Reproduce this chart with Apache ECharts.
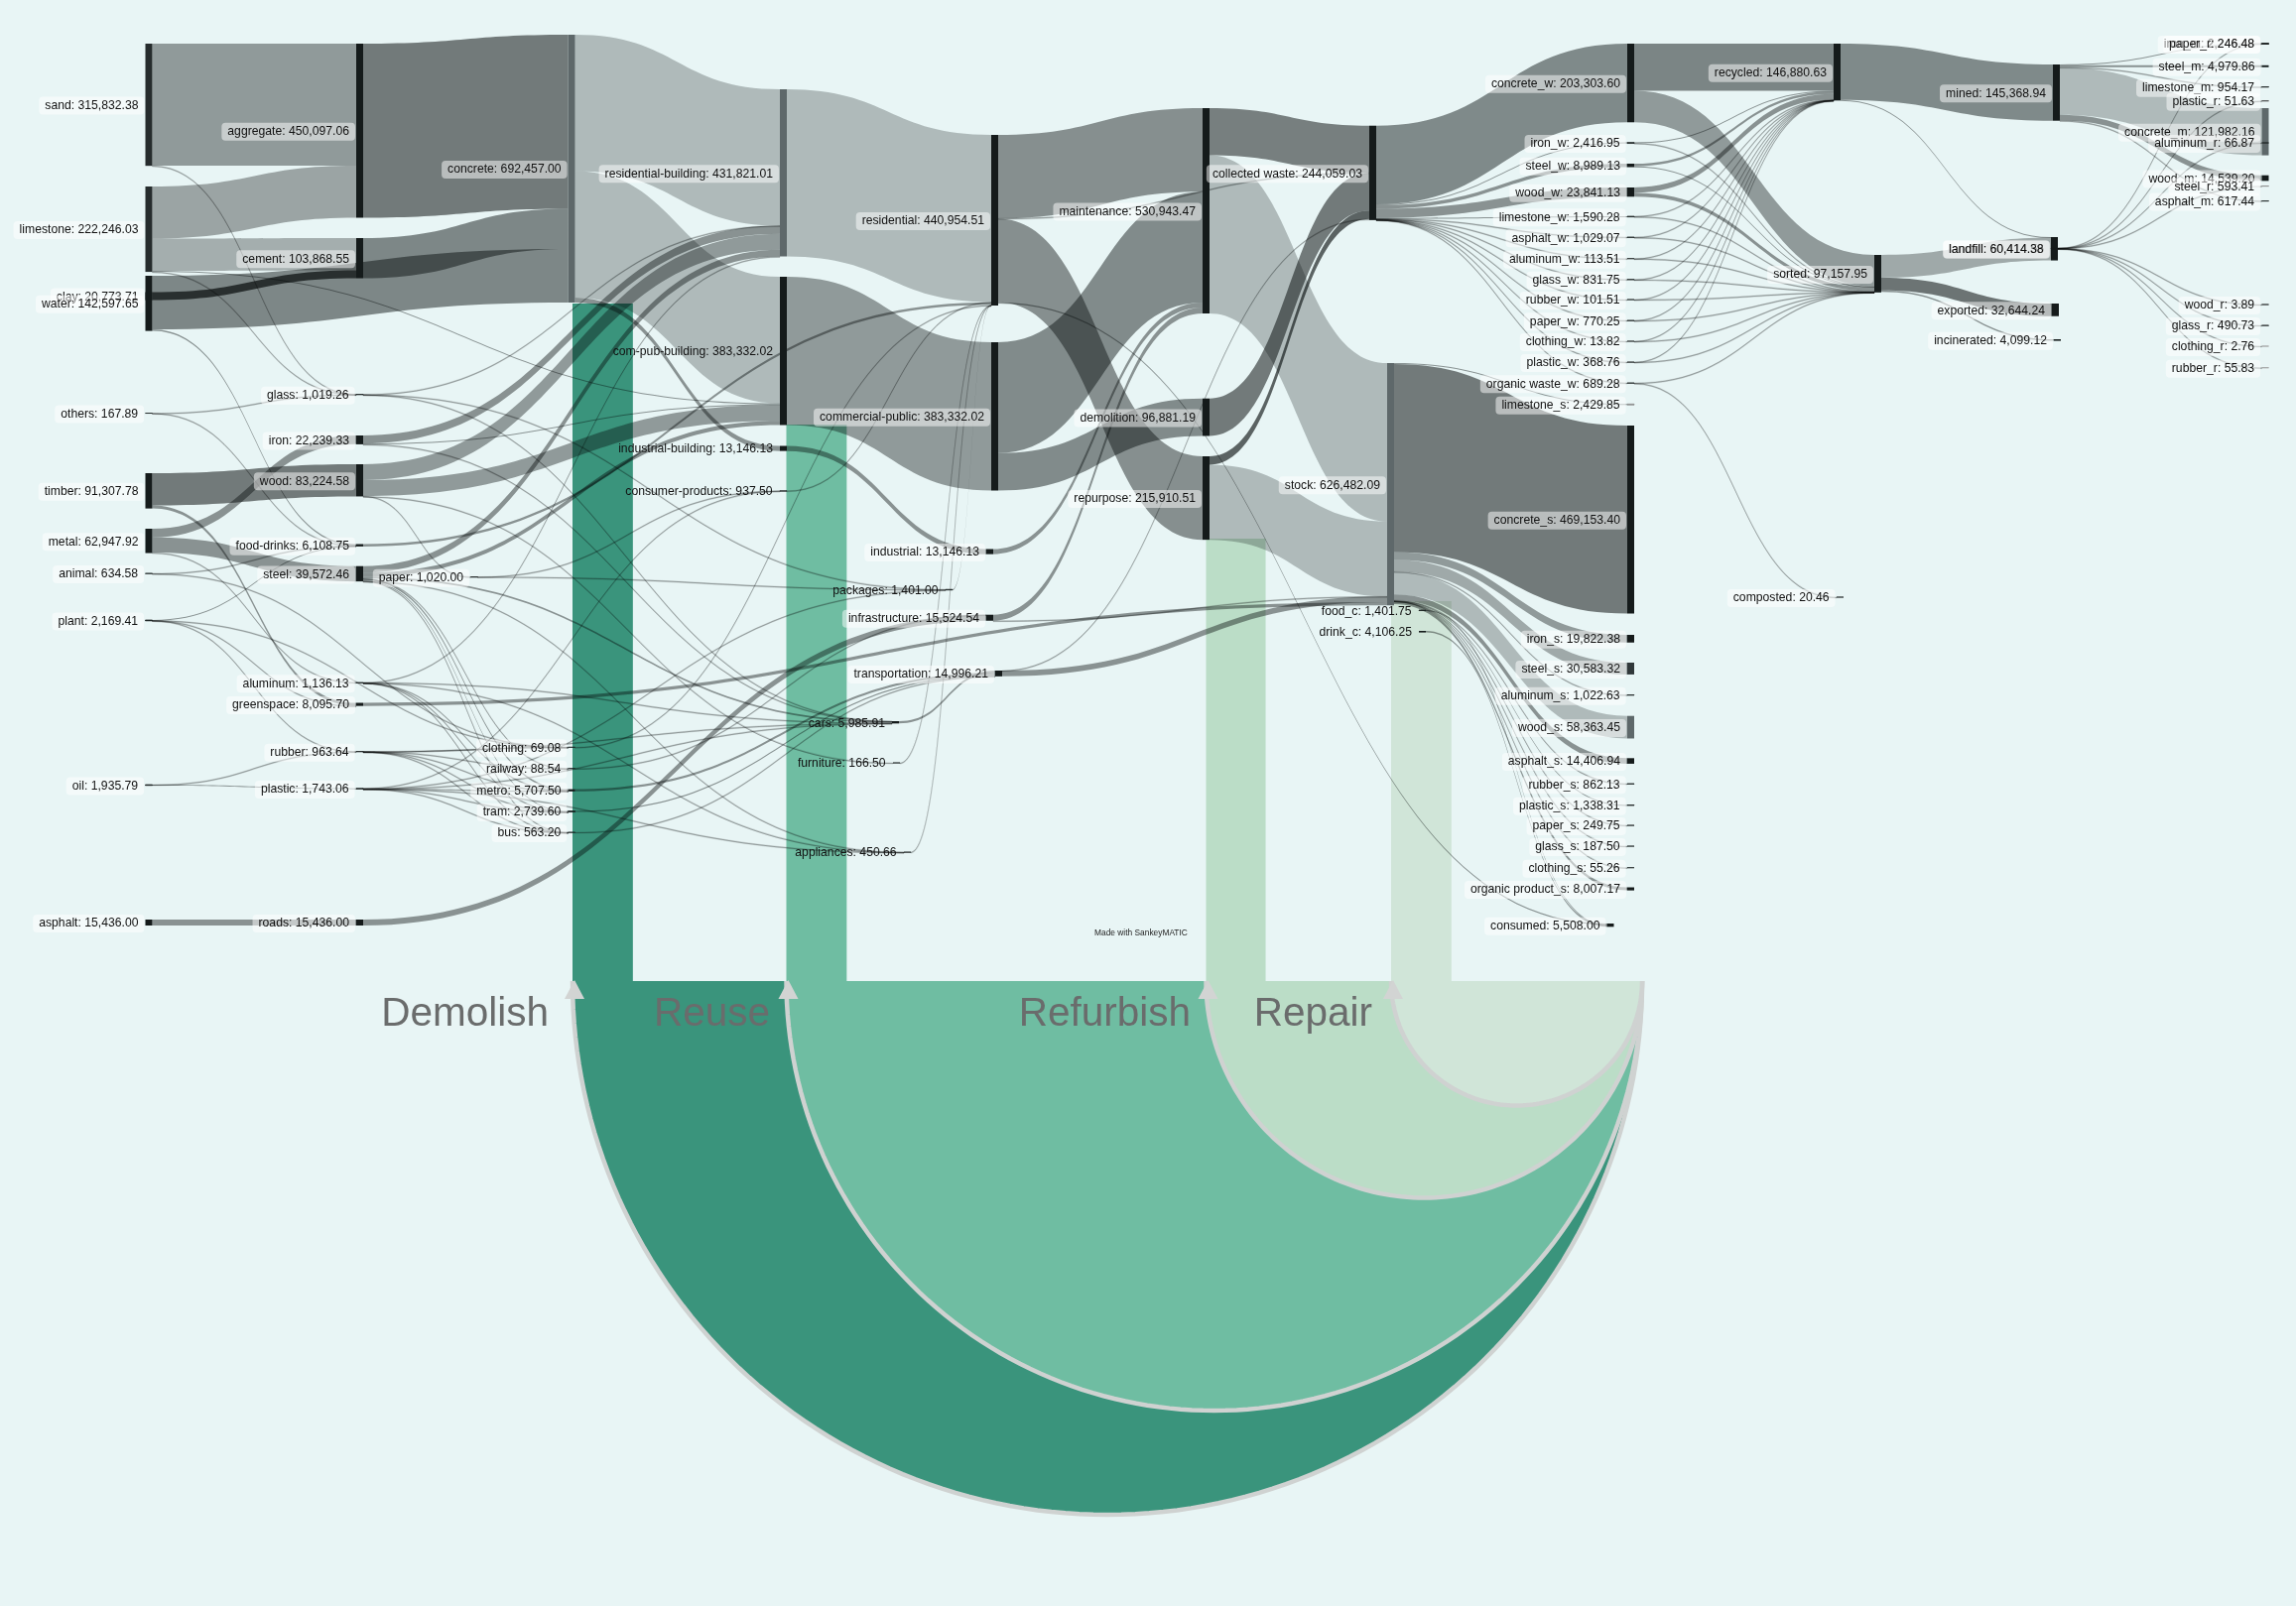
<!DOCTYPE html>
<html><head><meta charset="utf-8">
<style>html,body{margin:0;padding:0;background:#e8f5f5}#c{width:2314px;height:1619px}</style>
<script src="https://cdn.jsdelivr.net/npm/echarts@6/dist/echarts.min.js"></script>
</head><body><div id="c"></div>
<script>
// ---------- DATA: node labels as printed ----------
const rawNodes = {sand:'315,832.38',limestone:'222,246.03',clay:'20,773.71',water:'142,597.65',others:'167.89',timber:'91,307.78',metal:'62,947.92',animal:'634.58',plant:'2,169.41',oil:'1,935.79',asphalt:'15,436.00'};
const materialNodes = {aggregate:'450,097.06',cement:'103,868.55',glass:'1,019.26',iron:'22,239.33',wood:'83,224.58','food-drinks':'6,108.75',steel:'39,572.46',aluminum:'1,136.13',greenspace:'8,095.70',rubber:'963.64',plastic:'1,743.06',roads:'15,436.00'};
const productNodes = {concrete:'692,457.00',paper:'1,020.00',clothing:'69.08',railway:'88.54',metro:'5,707.50',tram:'2,739.60',bus:'563.20','residential-building':'431,821.01','com-pub-building':'383,332.02','industrial-building':'13,146.13','consumer-products':'937.50',packages:'1,401.00',cars:'5,985.91',furniture:'166.50',appliances:'450.66'};
const useNodes = {residential:'440,954.51','commercial-public':'383,332.02',industrial:'13,146.13',infrastructure:'15,524.54',transportation:'14,996.21',maintenance:'530,943.47',demolition:'96,881.19',repurpose:'215,910.51','collected waste':'244,059.03',stock:'626,482.09',food_c:'1,401.75',drink_c:'4,106.25'};
const wasteNodes = {concrete_w:'203,303.60',iron_w:'2,416.95',steel_w:'8,989.13',wood_w:'23,841.13',limestone_w:'1,590.28',asphalt_w:'1,029.07',aluminum_w:'113.51',glass_w:'831.75',rubber_w:'101.51',paper_w:'770.25',clothing_w:'13.82',plastic_w:'368.76','organic waste_w':'689.28'};
const stockNodes = {limestone_s:'2,429.85',concrete_s:'469,153.40',iron_s:'19,822.38',steel_s:'30,583.32',aluminum_s:'1,022.63',wood_s:'58,363.45',asphalt_s:'14,406.94',rubber_s:'862.13',plastic_s:'1,338.31',paper_s:'249.75',glass_s:'187.50',clothing_s:'55.26','organic product_s':'8,007.17',consumed:'5,508.00'};
const endNodes = {recycled:'146,880.63',sorted:'97,157.95',composted:'20.46',mined:'145,368.94',landfill:'60,414.56',landfill_r:'60,414.38',exported:'32,644.24',incinerated:'4,099.12',iron_m:'2,246.48',paper_r:'246.48',steel_m:'4,979.86',limestone_m:'954.17',plastic_r:'51.63',concrete_m:'121,982.16',aluminum_r:'66.87',wood_m:'14,539.20',steel_r:'593.41',asphalt_m:'617.44',wood_r:'3.89',glass_r:'490.73',clothing_r:'2.76',rubber_r:'55.83'};
const labelAlias = {landfill_r:'landfill'};

// ---------- DATA: flows ----------
const rawFlows = [['sand','aggregate',315500],['sand','glass',332],['limestone','aggregate',134597],['limestone','cement',83095],['limestone','glass',300],['limestone','com-pub-building',2700],['clay','cement',20773.71],['water','concrete',138492],['water','food-drinks',4105],['others','glass',100],['others','food-drinks',67.89],['timber','wood',83212],['timber','greenspace',8095],['metal','iron',22239.33],['metal','steel',39572.46],['metal','aluminum',1136.13],['animal','food-drinks',600],['animal','clothing',34.58],['plant','food-drinks',1335],['plant','rubber',771],['plant','clothing',34.5],['plant','greenspace',28],['oil','plastic',1743.06],['oil','rubber',192.73],['asphalt','roads',15436]];
const materialFlows = [['aggregate','concrete',450097.06],['cement','concrete',103868.55],['glass','residential-building',500],['glass','packages',300],['glass','cars',219],['iron','residential-building',21000],['iron','com-pub-building',1600],['iron','cars',239],['wood','residential-building',41000],['wood','com-pub-building',41000],['wood','paper',1020],['wood','furniture',166.5],['steel','residential-building',17000],['steel','com-pub-building',11000],['steel','metro',4300],['steel','tram',2400],['steel','bus',450],['steel','railway',60],['steel','cars',4000],['steel','appliances',250],['aluminum','residential-building',86],['aluminum','cars',500],['aluminum','metro',300],['aluminum','tram',100],['aluminum','appliances',100],['aluminum','bus',50],['rubber','clothing',20],['rubber','cars',500],['rubber','metro',150],['rubber','tram',100],['rubber','bus',20],['rubber','railway',10],['plastic','packages',200],['plastic','consumer-products',500],['plastic','cars',250],['plastic','metro',300],['plastic','tram',150],['plastic','bus',40],['plastic','appliances',100],['roads','infrastructure',15436],['greenspace','stock',8095],['food-drinks','residential',6108.75]];
const buildFlows = [['concrete','residential-building',352311],['concrete','com-pub-building',327000],['concrete','industrial-building',13146.13],['paper','packages',900],['paper','consumer-products',120],['clothing','residential',69.08],['railway','infrastructure',88.54],['metro','transportation',5707.5],['tram','transportation',2739.6],['bus','transportation',563.2],['cars','transportation',5985.91],['residential-building','residential',431821.01],['com-pub-building','commercial-public',383332.02],['industrial-building','industrial',13146.13],['consumer-products','residential',937.5],['packages','residential',1401],['furniture','residential',166.5],['appliances','residential',450.66]];
const useFlows = [['residential','maintenance',215910],['residential','repurpose',215800],['residential','collected waste',1000],['residential','consumed',3000],['commercial-public','maintenance',286451],['commercial-public','demolition',96881.19],['industrial','maintenance',13146.13],['infrastructure','maintenance',15436],['infrastructure','stock',88.54],['transportation','stock',14900],['transportation','collected waste',96.21],['maintenance','collected waste',121500],['maintenance','stock',409443],['demolition','collected waste',96881.19],['repurpose','collected waste',22000],['repurpose','stock',193800],['food_c','consumed',1401.75],['drink_c','consumed',4106.25]];
const wasteFlows = [['collected waste','concrete_w',203303.6],['collected waste','iron_w',2416.95],['collected waste','steel_w',8989.13],['collected waste','wood_w',23841.13],['collected waste','limestone_w',1590.28],['collected waste','asphalt_w',1029.07],['collected waste','aluminum_w',113.51],['collected waste','glass_w',831.75],['collected waste','rubber_w',101.51],['collected waste','paper_w',770.25],['collected waste','clothing_w',13.82],['collected waste','plastic_w',368.76],['collected waste','organic waste_w',689.28]];
const stockFlows = [['stock','limestone_s',2429.85],['stock','concrete_s',486000],['stock','iron_s',19822.38],['stock','steel_s',30583.32],['stock','aluminum_s',1022.63],['stock','wood_s',58363.45],['stock','asphalt_s',14406.94],['stock','rubber_s',862.13],['stock','plastic_s',1338.31],['stock','paper_s',249.75],['stock','glass_s',187.5],['stock','clothing_s',55.26],['stock','organic product_s',8007.17]];
const recycleFlows = [['concrete_w','recycled',122000],['concrete_w','sorted',81303.6],['iron_w','recycled',1400],['iron_w','sorted',1016.95],['steel_w','recycled',7000],['steel_w','sorted',1989.13],['wood_w','recycled',14000],['wood_w','sorted',9841.13],['limestone_w','recycled',900],['limestone_w','sorted',690.28],['asphalt_w','recycled',500],['asphalt_w','sorted',529.07],['aluminum_w','recycled',80],['aluminum_w','sorted',33.51],['glass_w','recycled',500],['glass_w','sorted',331.75],['rubber_w','recycled',60],['rubber_w','sorted',41.51],['paper_w','recycled',400],['paper_w','sorted',370.25],['clothing_w','recycled',6],['clothing_w','sorted',7.82],['plastic_w','recycled',200],['plastic_w','sorted',168.76],['organic waste_w','sorted',668.82],['organic waste_w','composted',20.46]];
const endFlows = [['recycled','mined',145368.94],['recycled','landfill',1511.69],['sorted','landfill',58900],['sorted','exported',32644.24],['sorted','incinerated',4099.12],['mined','iron_m',2246.48],['mined','steel_m',4979.86],['mined','limestone_m',954.17],['mined','concrete_m',121982.16],['mined','wood_m',14539.2],['mined','asphalt_m',617.44],['landfill_r','paper_r',246.48],['landfill_r','plastic_r',51.63],['landfill_r','aluminum_r',66.87],['landfill_r','steel_r',593.41],['landfill_r','wood_r',3.89],['landfill_r','glass_r',490.73],['landfill_r','clothing_r',2.76],['landfill_r','rubber_r',55.83]];

// closed-loop flows (estimated from the drawn width)
const loopLabels = ['Demolish','Reuse','Refurbish','Repair'];
const loopValues = [156000,156000,154000,156000];

// ---------- LAYOUT (kept apart from the data) ----------
const unitPx = 0.00039;          // px per flow unit
const nodeTop = {sand:[146.5,44],limestone:[146.5,188],water:[146.5,278],clay:[146.5,294.5],others:[146.5,416.5],timber:[146.5,477],metal:[146.5,533],animal:[146.5,578],plant:[146.5,625],oil:[146.5,791],asphalt:[146.5,927],
aggregate:[359,44],cement:[359,240],glass:[359,397.5],iron:[359,439],wood:[359,468],'food-drinks':[359,548.5],steel:[359,570.7],aluminum:[359,688],greenspace:[359,708.5],rubber:[359,757.5],plastic:[359,794.7],roads:[359,927],
concrete:[572.6,35],paper:[474.5,581.5],clothing:[572.6,753.3],railway:[572.6,774.7],metro:[572.6,795.6],tram:[572.6,817.5],bus:[572.6,839],
'residential-building':[786,90],'com-pub-building':[786,279],'industrial-building':[786,449.5],'consumer-products':[786,494.8],packages:[953,594.2],cars:[899,727],furniture:[900,769],appliances:[911,859],
residential:[999,136],'commercial-public':[999,345],industrial:[994,553.5],infrastructure:[994,619.7],transportation:[1003,676],
maintenance:[1212,109],demolition:[1212,401.7],repurpose:[1212,460],'collected waste':[1380,126.7],stock:[1398,366],food_c:[1430,615],drink_c:[1430,636],
concrete_w:[1640,44],iron_w:[1640,143.6],steel_w:[1640,165],wood_w:[1640,189],limestone_w:[1640,218],asphalt_w:[1640,239],aluminum_w:[1640,260.7],glass_w:[1640,281.7],rubber_w:[1640,302],paper_w:[1640,323],clothing_w:[1640,344],plastic_w:[1640,365],'organic waste_w':[1640,386],
limestone_s:[1640,407.3],concrete_s:[1640,429],iron_s:[1640,640],steel_s:[1640,668],aluminum_s:[1640,700.5],wood_s:[1640,721.7],asphalt_s:[1640,764.3],rubber_s:[1640,790],plastic_s:[1640,811.5],paper_s:[1640,832],glass_s:[1640,853],clothing_s:[1640,874.7],'organic product_s':[1640,894.5],consumed:[1619.5,931],composted:[1851,602],
recycled:[1848,44],sorted:[1889,257],mined:[2069,65],landfill:[2067,239],landfill_r:[2067,250],exported:[2068,306],incinerated:[2070,342],
iron_m:[2279.5,43.6],paper_r:[2279.5,44],steel_m:[2279.5,65.8],limestone_m:[2279.5,87.5],plastic_r:[2279.5,101.7],concrete_m:[2279.5,109],aluminum_r:[2279.5,144],wood_m:[2279.5,176.7],steel_r:[2279.5,187.5],asphalt_m:[2279.5,202.5],wood_r:[2279.5,307],glass_r:[2279.5,328],clothing_r:[2279.5,349],rubber_r:[2279.5,370.7]};
const greyNodes = {concrete:'#5e686a','residential-building':'#5e686a',stock:'#5e686a',concrete_m:'#5e686a',wood_s:'#5e686a',steel_s:'#30383a',sand:'#262c2d',limestone:'#262c2d',plastic_r:'#333',steel_r:'#888',rubber_r:'#999',clothing_r:'#999',limestone_s:'#888'};
const noLabelBox = ['com-pub-building','industrial-building','consumer-products','packages','cars','furniture','appliances','food_c','drink_c'];
const linkAlpha = {'concrete>residential-building':.25,'concrete>com-pub-building':.25,'residential-building>residential':.25,'maintenance>stock':.25,'repurpose>stock':.25,'mined>concrete_m':.25,'stock>wood_s':.25,'stock>steel_s':.32,'stock>iron_s':.39,
'sand>aggregate':.39,'limestone>aggregate':.34,'limestone>cement':.3,'aggregate>concrete':.52,'timber>wood':.52,'water>concrete':.47,'cement>concrete':.47,'clay>cement':.7,'com-pub-building>commercial-public':.39,'residential>maintenance':.43,'residential>repurpose':.43,'commercial-public>maintenance':.45,'commercial-public>demolition':.45,'maintenance>collected waste':.5,'demolition>collected waste':.52,'repurpose>collected waste':.62,'collected waste>concrete_w':.46,'stock>concrete_s':.52,'concrete_w>recycled':.48,'concrete_w>sorted':.39,'recycled>mined':.46,'sorted>exported':.55,'sorted>landfill':.32,'asphalt>roads':.42,'metal>iron':.42,'metal>steel':.42,'wood>residential-building':.39,'wood>com-pub-building':.39};
const bgColor = '#e8f5f5';

// ---------- BUILD ----------
const labelOf = Object.assign({}, rawNodes, materialNodes, productNodes, useNodes, wasteNodes, stockNodes, endNodes);
const yOf = n => nodeTop[n][1];
const links = [].concat(rawFlows, materialFlows, buildFlows, useFlows, wasteFlows, stockFlows, recycleFlows, endFlows)
  .sort((a,b)=> yOf(a[1])-yOf(b[1]) || yOf(a[0])-yOf(b[0]));
const inSum = {}, outSum = {};
links.forEach(l=>{outSum[l[0]]=(outSum[l[0]]||0)+l[2]; inSum[l[1]]=(inSum[l[1]]||0)+l[2];});
const names = Object.keys(labelOf);
const nodeVal = n => Math.max(inSum[n]||0,outSum[n]||0);
const maxVal = Math.max.apply(null,names.map(nodeVal));
const seriesH = unitPx*maxVal;
const W = 2314;

const nodeData = names.map((n,i)=>{
  const tiny = nodeVal(n)*unitPx < 1.2;
  const item = {name:n, depth:i, localX:nodeTop[n][0]/W, localY:nodeTop[n][1]/seriesH,
    itemStyle:{color:greyNodes[n]||'#151b1b', borderColor:greyNodes[n]||'#151b1b', borderWidth:tiny?0.7:0, opacity:1}};
  if(noLabelBox.indexOf(n)>=0) item.label={backgroundColor:'transparent'};
  return item;
});
const linkData = links.map(l=>{
  const hair = l[2] < 1300, key = l[0]+'>'+l[1];
  const a = linkAlpha[key] || (hair ? 0.3 : 0.42);
  return {source:l[0], target:l[1], value:l[2],
    lineStyle:{color:'rgb(5,10,10)', opacity:a, borderColor:'rgb(5,10,10)', borderWidth:hair?0.42:0, curveness:0.5}};
});

// closed-loop geometry
const loopRight = 1655, loopTop = 989;
const loopBarX  = [577,792.5,1215.5,1402];
const loopBarTop= [306,428,543,606];
const loopDepth = [538,433,218.5,125.5];
const loopDisc  = ['#3a947c','#6fbda2','#bbddc7','#d0e5d8'];
const loopTextRight = [553,776,1200,1383];

function discItem(params, api){
  const i = api.value(0), xL = loopBarX[i];
  const c = (xL+loopRight)/2, rx=(loopRight-xL)/2, ry=loopDepth[i];
  const arc=[];
  for(let t=0;t<=120;t++){const a=Math.PI-Math.PI*t/120; arc.push(api.coord([c+rx*Math.cos(a), loopTop+ry*Math.sin(a)]));}
  const head=[[xL+2,loopTop-1],[xL+12,loopTop+18],[xL-8,loopTop+18]].map(p=>api.coord(p));
  const barTL = api.coord([xL,loopBarTop[i]]), barBR = api.coord([xL+api.value(1)*unitPx,loopTop+1]);
  return {type:'group',children:[
    {type:'rect',shape:{x:barTL[0],y:barTL[1],width:barBR[0]-barTL[0],height:barBR[1]-barTL[1]},style:{fill:loopDisc[i]}},
    {type:'polygon',shape:{points:arc},style:{fill:loopDisc[i]}},
    {type:'polyline',shape:{points:arc},style:{fill:null,stroke:'#cfd2d1',lineWidth:4.5}},
    {type:'polygon',shape:{points:head},style:{fill:'#d2d4d3'}},
    {type:'text',z2:50,style:{text:loopLabels[i],x:api.coord([loopTextRight[i],0])[0],y:api.coord([0,1022.5])[1],align:'right',verticalAlign:'middle',fill:'#6a6c6c',font:'40.5px "Liberation Sans"'}}
  ]};
}
const loopData = loopLabels.map((n,i)=>[i,loopValues[i]]);

const chart = echarts.init(document.getElementById('c'),null,{renderer:'canvas'});
chart.setOption({
  animation:false,
  backgroundColor:bgColor,
  grid:{left:0,right:0,top:0,bottom:0},
  xAxis:{type:'value',min:0,max:W,show:false},
  yAxis:{type:'value',min:0,max:1619,inverse:true,show:false},
  graphic:[{type:'text',z:20,x:1103,y:937,style:{text:'Made with SankeyMATIC',fill:'#222',font:'8.4px "Liberation Sans"'}}],
  series:[
    {type:'custom',name:'loops',coordinateSystem:'cartesian2d',z:1,silent:true,clip:false,renderItem:discItem,data:loopData},
    {type:'sankey',left:0,top:0,width:W,height:seriesH,nodeWidth:7,nodeGap:0,layoutIterations:0,z:3,
      draggable:false,silent:true,emphasis:{disabled:true},
      label:{show:true,position:'left',distance:1,offset:[0,1],color:'#111',fontFamily:'Liberation Sans',fontSize:12.2,
        backgroundColor:'rgba(255,255,255,0.5)',padding:[3,6],borderRadius:4,
        formatter:p=>(labelAlias[p.name]||p.name)+': '+labelOf[p.name]},
      data:nodeData,links:linkData}
  ]
});
</script></body></html>
